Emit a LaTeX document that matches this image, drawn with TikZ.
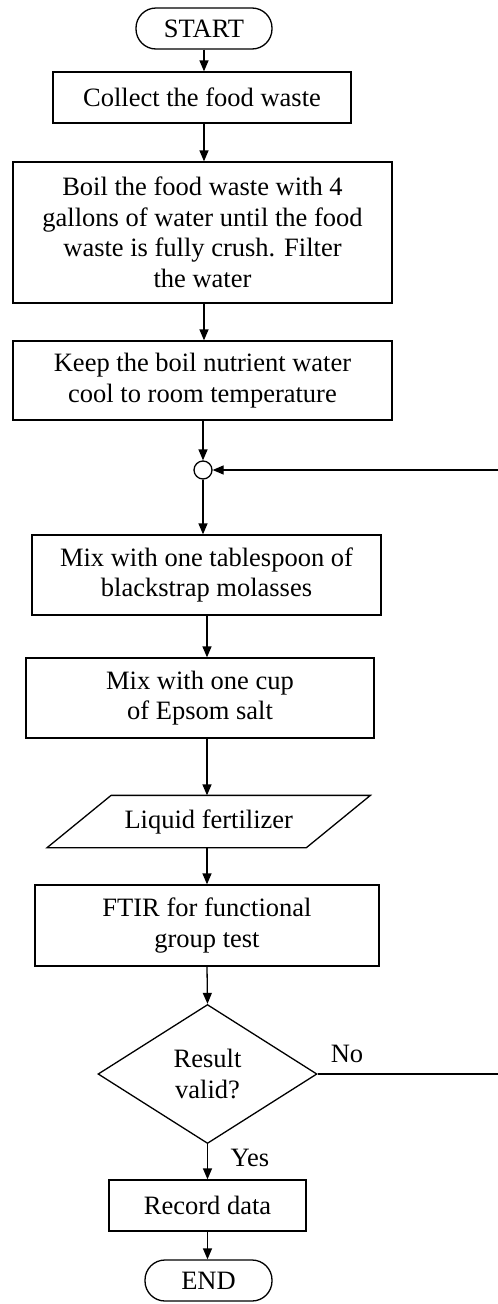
\documentclass[tikz,border=0pt]{standalone}
\usepackage{fontspec}
\setmainfont{Liberation Serif}
\usetikzlibrary{shapes.geometric,arrows.meta}
\begin{document}
\begin{tikzpicture}[x=1pt,y=-1pt,
  every node/.style={font=\fontsize{26.5}{30.5}\selectfont, inner sep=0pt, line width=1.3pt},
  box/.style={draw, rectangle, align=center},
  term/.style={draw, rectangle, rounded corners=20pt, minimum width=136pt, minimum height=41pt},
  arr/.style={-{Triangle[length=11pt,width=9pt]}, line width=1.3pt},
  ln/.style={line width=1.3pt}]
\useasboundingbox (0,0) rectangle (498,1304);

\node[term] (start) at (204,28.5) {START};
\node[box, minimum width=298pt, minimum height=51pt] (collect) at (202,97.5) {Collect the food waste};
\node[box, minimum width=379pt, minimum height=141pt] (boil) at (202.5,232.5) {Boil the food waste with 4\\gallons of water until the food\\waste is fully crush. Filter\\the water};
\node[box, minimum width=379pt, minimum height=79pt] (keep) at (202.5,380.5) {Keep the boil nutrient water\\cool to room temperature};
\node[draw, circle, minimum size=18pt] (circ) at (203,470) {};
\node[box, minimum width=349pt, minimum height=80pt] (mix1) at (206.5,575) {Mix with one tablespoon of\\blackstrap molasses};
\node[box, minimum width=348pt, minimum height=80pt] (mix2) at (200,698) {Mix with one cup\\of Epsom salt};
\node[minimum width=258pt, minimum height=51pt] (liq) at (208.75,821.5) {Liquid fertilizer};
\draw[ln] ([xshift=32pt]liq.north west) -- ([xshift=32pt]liq.north east) -- ([xshift=-32pt]liq.south east) -- ([xshift=-32pt]liq.south west) -- cycle;
\node[box, minimum width=344pt, minimum height=81pt] (ftir) at (207,925.5) {FTIR for functional\\group test};
\node[draw, diamond, align=center, aspect=1.58, minimum width=219pt, minimum height=139pt] (dec) at (207.5,1074) {Result\\valid?};
\node[box, minimum width=197pt, minimum height=51pt] (rec) at (207.5,1205.5) {Record data};
\node[term, minimum width=127pt] (stop) at (208.5,1280.5) {END};
\node (no) at (347,1054) {No};
\node (yes) at (250,1158) {Yes};
\coordinate (rt) at (499.5,0);

\draw[arr] (start.south) -- (start.south |- collect.north);
\draw[arr] (start.south |- collect.south) -- (start.south |- boil.north);
\draw[arr] (start.south |- boil.south) -- (start.south |- keep.north);
\draw[arr] (circ.north |- keep.south) -- (circ.north);
\draw[arr] (circ.south) -- (circ.south |- mix1.north);
\draw[arr] ([xshift=0.5pt]mix1.south) -- ([xshift=0.5pt]mix1.south |- mix2.north);
\draw[arr] (ftir.south |- mix2.south) -- (ftir.south |- liq.north);
\draw[arr] (ftir.north |- liq.south) -- (ftir.north);
\draw[arr] (ftir.south) -- (dec.north);
\draw[arr] (dec.south) -- (dec.south |- rec.north);
\draw[arr] (rec.south) -- (stop.north -| rec.south);
\draw[arr] (dec.east) -- (dec.east -| rt) |- (circ.east);
\end{tikzpicture}
\end{document}
